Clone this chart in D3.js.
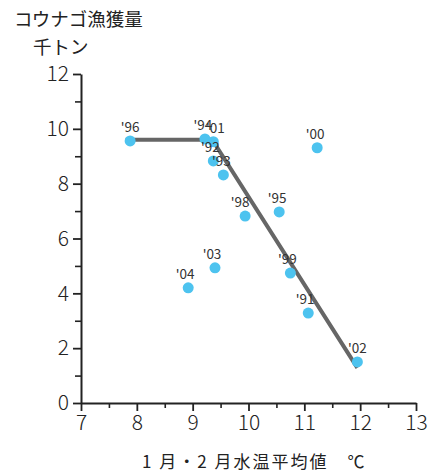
<!DOCTYPE html>
<html>
<head>
<meta charset="utf-8">
<script src="https://cdn.jsdelivr.net/npm/d3@7"></script>
<style>
  body { margin: 0; background: #fff; }
  text { font-family: "Noto Sans CJK JP", sans-serif; }
</style>
</head>
<body>
<div id="chart"></div>
<script>
// Sand lance catch vs. mean Jan/Feb water temperature

const years     = ["'91", "'92", "'93", "'94", "'95", "'96", "'98", "'99", "'00", "'01", "'02", "'03", "'04"];
const waterTemp = [11.07, 9.37, 9.55, 9.22, 10.55, 7.88, 9.94, 10.75, 11.23, 9.37, 11.95, 9.40, 8.92];
const catchKt   = [3.28, 8.83, 8.32, 9.63, 6.97, 9.56, 6.82, 4.74, 9.31, 9.53, 1.50, 4.93, 4.20];

// fitted broken line
const lineTemp  = [7.8, 9.35, 11.95];
const lineCatch = [9.6, 9.6, 1.28];

const xTicks      = [7, 8, 9, 10, 11, 12, 13];
const xMinorTicks = [7.5, 8.5, 9.5, 10.5, 11.5, 12.5];
const yTicks      = [0, 2, 4, 6, 8, 10, 12];
const yMinorTicks = [1, 3, 5, 7, 9, 11];

const width = 428, height = 474;

// label nudges (px) so the year tags sit like the original
const labelDx = { "'94": -2, "'01": 2, "'92": -3, "'93": -2, "'98": -5, "'95": -2, "'00": -2, "'03": -3, "'04": -3, "'99": -3, "'91": -3 };

const svg = d3.select("#chart").append("svg")
  .attr("width", width)
  .attr("height", height);

const x = d3.scaleLinear().domain([7, 13]).range([81, 416]);
const y = d3.scaleLinear().domain([0, 12]).range([403, 74]);

// titles
svg.append("text")
  .attr("x", 14).attr("y", 26)
  .style("font-size", "18.5px")
  .style("fill", "#222")
  .text("コウナゴ漁獲量");

svg.append("text")
  .attr("x", 33).attr("y", 54)
  .style("font-size", "18.5px")
  .style("fill", "#222")
  .text("千トン");

// minor ticks
svg.append("g")
  .attr("transform", `translate(${x(7)},0)`)
  .call(d3.axisLeft(y).tickValues(yMinorTicks).tickSize(6).tickFormat(""))
  .call(g => g.select(".domain").remove())
  .call(g => g.selectAll("line").attr("stroke", "#222").attr("stroke-width", 1.6));

svg.append("g")
  .attr("transform", `translate(0,${y(0)})`)
  .call(d3.axisBottom(x).tickValues(xMinorTicks).tickSize(5).tickFormat(""))
  .call(g => g.select(".domain").remove())
  .call(g => g.selectAll("line").attr("stroke", "#222").attr("stroke-width", 1.6));

// main axes
const styleTicks = g => g.selectAll("text")
  .style("font-size", "21px")
  .style("fill", "#222")
  .style("font-family", "'Noto Sans CJK JP', sans-serif")
  .style("font-weight", 300);

svg.append("g")
  .attr("transform", `translate(${x(7)},0)`)
  .call(d3.axisLeft(y).tickValues(yTicks).tickFormat(d3.format("d")).tickSize(8).tickSizeOuter(0).tickPadding(4))
  .call(g => g.select(".domain").attr("stroke", "#222").attr("stroke-width", 2))
  .call(g => g.selectAll("line").attr("stroke", "#222").attr("stroke-width", 1.8))
  .call(styleTicks);

svg.append("g")
  .attr("transform", `translate(0,${y(0)})`)
  .call(d3.axisBottom(x).tickValues(xTicks).tickFormat(d3.format("d")).tickSize(8).tickSizeOuter(0).tickPadding(4))
  .call(g => g.select(".domain").attr("stroke", "#222").attr("stroke-width", 2))
  .call(g => g.selectAll("line").attr("stroke", "#222").attr("stroke-width", 1.8))
  .call(styleTicks);

// x axis title
svg.append("text")
  .attr("x", 142).attr("y", 468)
  .style("font-size", "17px")
  .style("letter-spacing", "2px")
  .style("fill", "#222")
  .text("1 月・2 月水温平均値　℃");

// broken line
const line = d3.line()
  .x(d => x(d[0]))
  .y(d => y(d[1]));

svg.append("path")
  .datum(lineTemp.map((t, i) => [t, lineCatch[i]]))
  .attr("d", line)
  .attr("fill", "none")
  .attr("stroke", "#666")
  .attr("stroke-width", 4);

// points
const pts = years.map((yr, i) => ({ year: yr, t: waterTemp[i], c: catchKt[i] }));

svg.selectAll(".dot")
  .data(pts)
  .join("circle")
  .attr("class", "dot")
  .attr("cx", d => x(d.t))
  .attr("cy", d => y(d.c))
  .attr("r", 5.5)
  .attr("fill", "#4dc3ef");

svg.selectAll(".yr")
  .data(pts)
  .join("text")
  .attr("class", "yr")
  .attr("x", d => x(d.t) + (labelDx[d.year] || 0))
  .attr("y", d => y(d.c) - 9)
  .attr("text-anchor", "middle")
  .style("font-size", "13.5px")
  .style("fill", "#333")
  .text(d => d.year);
</script>
</body>
</html>
